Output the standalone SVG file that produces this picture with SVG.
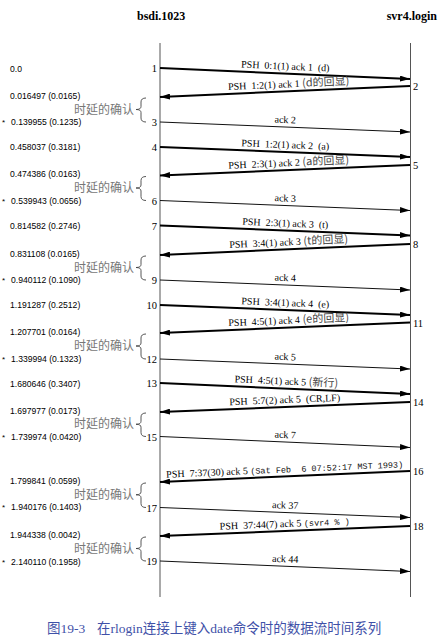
<svg xmlns="http://www.w3.org/2000/svg" width="439" height="639" viewBox="0 0 439 639">
<style>
.hdr{font-family:"Liberation Serif","DejaVu Serif",serif;font-weight:bold;font-size:12px;fill:#000}
.life{stroke:#555;stroke-width:1;fill:none}
.psh{stroke:#000;stroke-width:2;fill:none}
.ack{stroke:#111;stroke-width:1;fill:none}
.lbl{font-family:"Liberation Serif","DejaVu Serif",serif;font-size:10px;fill:#000;text-anchor:middle}
.cj{font-family:"Noto Sans CJK SC",sans-serif;font-size:11px;fill:#444}
.mono{font-family:"Liberation Mono","DejaVu Sans Mono",monospace;font-size:8.5px;fill:#111}
.num{font-family:"Liberation Serif","DejaVu Serif",serif;font-size:10.5px;fill:#000}
.numL{text-anchor:end}
.time{font-family:"Liberation Sans","DejaVu Sans",sans-serif;font-size:8.6px;fill:#000}
.star{font-family:"Liberation Sans",sans-serif;font-size:8px;fill:#000}
.dly{font-family:"Noto Sans CJK SC",sans-serif;font-size:12px;fill:#777;text-anchor:end}
.brace{stroke:#444;stroke-width:0.9;fill:none}
.cap{font-family:"Liberation Serif","Noto Sans CJK SC",serif;font-size:13.5px;fill:#3f51a8}
</style>
<defs>
<marker id="ah" viewBox="0 0 10 6" refX="10" refY="3" markerWidth="10" markerHeight="6" markerUnits="userSpaceOnUse" orient="auto">
<path d="M0,0 L10,3 L0,6 z" fill="#000"/>
</marker>
</defs>
<rect width="439" height="639" fill="#fff"/>

<g id="host-bsdi">
<text class="hdr" x="137" y="20">bsdi.1023</text>
<line class="life" x1="160" y1="43" x2="160" y2="597"/>
</g>
<g id="host-svr4">
<text class="hdr" x="437" y="20" text-anchor="end">svr4.login</text>
<line class="life" x1="410.5" y1="43" x2="410.5" y2="597"/>
</g>

<g id="connectors">
<line class="psh" x1="160" y1="68" x2="410" y2="79" marker-end="url(#ah)"/>
<line class="psh" x1="410" y1="86" x2="160" y2="97" marker-end="url(#ah)"/>
<line class="ack" x1="160" y1="122" x2="410" y2="132" marker-end="url(#ah)"/>
<line class="psh" x1="160" y1="147" x2="410" y2="157" marker-end="url(#ah)"/>
<line class="psh" x1="410" y1="165" x2="160" y2="175.5" marker-end="url(#ah)"/>
<line class="ack" x1="160" y1="200.5" x2="410" y2="210.5" marker-end="url(#ah)"/>
<line class="psh" x1="160" y1="225.5" x2="410" y2="235.5" marker-end="url(#ah)"/>
<line class="psh" x1="410" y1="244" x2="160" y2="255" marker-end="url(#ah)"/>
<line class="ack" x1="160" y1="280" x2="410" y2="290" marker-end="url(#ah)"/>
<line class="psh" x1="160" y1="305" x2="410" y2="315" marker-end="url(#ah)"/>
<line class="psh" x1="410" y1="322.5" x2="160" y2="333" marker-end="url(#ah)"/>
<line class="ack" x1="160" y1="359" x2="410" y2="369" marker-end="url(#ah)"/>
<line class="psh" x1="160" y1="383" x2="410" y2="394" marker-end="url(#ah)"/>
<line class="psh" x1="410" y1="402" x2="160" y2="412" marker-end="url(#ah)"/>
<line class="ack" x1="160" y1="436.5" x2="410" y2="447.5" marker-end="url(#ah)"/>
<line class="psh" x1="410" y1="471" x2="160" y2="482" marker-end="url(#ah)"/>
<line class="ack" x1="160" y1="507.5" x2="410" y2="517.5" marker-end="url(#ah)"/>
<line class="psh" x1="410" y1="526" x2="160" y2="536" marker-end="url(#ah)"/>
<line class="ack" x1="160" y1="561" x2="410" y2="571.5" marker-end="url(#ah)"/>
</g>

<g id="segment-labels">
<text class="lbl" xml:space="preserve" x="285" y="69.5" transform="rotate(2.52 285 73.5)">PSH  0:1(1) ack 1  (d)</text>
<text class="lbl" xml:space="preserve" x="289" y="87.5" transform="rotate(-2.52 285 91.5)">PSH  1:2(1) ack 1 <tspan class="cj">(d的回显)</tspan></text>
<text class="lbl" x="285" y="123" transform="rotate(2.29 285 127)">ack 2</text>
<text class="lbl" xml:space="preserve" x="285" y="148" transform="rotate(2.29 285 152)">PSH  1:2(1) ack 2  (a)</text>
<text class="lbl" xml:space="preserve" x="289" y="166.25" transform="rotate(-2.41 285 170.25)">PSH  2:3(1) ack 2 <tspan class="cj">(a的回显)</tspan></text>
<text class="lbl" x="285" y="201.5" transform="rotate(2.29 285 205.5)">ack 3</text>
<text class="lbl" xml:space="preserve" x="285" y="226.5" transform="rotate(2.29 285 230.5)">PSH  2:3(1) ack 3  (t)</text>
<text class="lbl" xml:space="preserve" x="289" y="245.5" transform="rotate(-2.52 285 249.5)">PSH  3:4(1) ack 3 <tspan class="cj">(t的回显)</tspan></text>
<text class="lbl" x="285" y="281" transform="rotate(2.29 285 285)">ack 4</text>
<text class="lbl" xml:space="preserve" x="285" y="306" transform="rotate(2.29 285 310)">PSH  3:4(1) ack 4  (e)</text>
<text class="lbl" xml:space="preserve" x="289" y="323.75" transform="rotate(-2.41 285 327.75)">PSH  4:5(1) ack 4 <tspan class="cj">(e的回显)</tspan></text>
<text class="lbl" x="285" y="360" transform="rotate(2.29 285 364)">ack 5</text>
<text class="lbl" xml:space="preserve" x="286" y="384.5" transform="rotate(2.52 285 388.5)">PSH  4:5(1) ack 5 <tspan class="cj">(新行)</tspan></text>
<text class="lbl" xml:space="preserve" x="285" y="403" transform="rotate(-2.29 285 407)">PSH  5:7(2) ack 5  (CR,LF)</text>
<text class="lbl" x="285" y="438" transform="rotate(2.52 285 442)">ack 7</text>
<text class="lbl" xml:space="preserve" x="285" y="472.5" transform="rotate(-2.52 285 476.5)">PSH  7:37(30) ack 5 <tspan class="mono">(Sat Feb  6 07:52:17 MST 1993)</tspan></text>
<text class="lbl" x="285" y="508.5" transform="rotate(2.29 285 512.5)">ack 37</text>
<text class="lbl" xml:space="preserve" x="285" y="527" transform="rotate(-2.29 285 531)">PSH  37:44(7) ack 5 <tspan class="mono">(svr4 % )</tspan></text>
<text class="lbl" x="285" y="562.25" transform="rotate(2.41 285 566.25)">ack 44</text>
</g>

<g id="segment-numbers">
<text class="num numL" x="157" y="72">1</text>
<text class="num" x="413" y="90">2</text>
<text class="num numL" x="157" y="126">3</text>
<text class="num numL" x="157" y="151">4</text>
<text class="num" x="413" y="169">5</text>
<text class="num numL" x="157" y="204.5">6</text>
<text class="num numL" x="157" y="229.5">7</text>
<text class="num" x="413" y="248">8</text>
<text class="num numL" x="157" y="284">9</text>
<text class="num numL" x="157" y="309">10</text>
<text class="num" x="413" y="326.5">11</text>
<text class="num numL" x="157" y="363">12</text>
<text class="num numL" x="157" y="387">13</text>
<text class="num" x="413" y="406">14</text>
<text class="num numL" x="157" y="440.5">15</text>
<text class="num" x="413" y="475">16</text>
<text class="num numL" x="157" y="511.5">17</text>
<text class="num" x="413" y="530">18</text>
<text class="num numL" x="157" y="565">19</text>
</g>

<g id="timestamps">
<text class="time" x="10" y="72">0.0</text>
<text class="time" x="10" y="99">0.016497 (0.0165)</text>
<text class="star" x="2" y="125">*</text><text class="time" x="11" y="125">0.139955 (0.1235)</text>
<text class="time" x="10" y="150">0.458037 (0.3181)</text>
<text class="time" x="10" y="177">0.474386 (0.0163)</text>
<text class="star" x="2" y="204">*</text><text class="time" x="11" y="204">0.539943 (0.0656)</text>
<text class="time" x="10" y="229">0.814582 (0.2746)</text>
<text class="time" x="10" y="257">0.831108 (0.0165)</text>
<text class="star" x="2" y="283">*</text><text class="time" x="11" y="283">0.940112 (0.1090)</text>
<text class="time" x="10" y="308">1.191287 (0.2512)</text>
<text class="time" x="10" y="335">1.207701 (0.0164)</text>
<text class="star" x="2" y="362">*</text><text class="time" x="11" y="362">1.339994 (0.1323)</text>
<text class="time" x="10" y="386.5">1.680646 (0.3407)</text>
<text class="time" x="10" y="414">1.697977 (0.0173)</text>
<text class="star" x="2" y="439.5">*</text><text class="time" x="11" y="439.5">1.739974 (0.0420)</text>
<text class="time" x="10" y="484">1.799841 (0.0599)</text>
<text class="star" x="2" y="510">*</text><text class="time" x="11" y="510">1.940176 (0.1403)</text>
<text class="time" x="10" y="538">1.944338 (0.0042)</text>
<text class="star" x="2" y="564.5">*</text><text class="time" x="11" y="564.5">2.140110 (0.1958)</text>
</g>

<g id="delayed-acks">
<text class="dly" x="134" y="113.5">时延的确认</text>
<path class="brace" d="M146,98 Q141,98 141,102 L141,106.5 Q141,109.5 136,109.5 Q141,109.5 141,112.5 L141,118 Q141,122 146,122"/>
<text class="dly" x="134" y="192">时延的确认</text>
<path class="brace" d="M146,176.5 Q141,176.5 141,180.5 L141,185 Q141,188 136,188 Q141,188 141,191 L141,196.5 Q141,200.5 146,200.5"/>
<text class="dly" x="134" y="271.5">时延的确认</text>
<path class="brace" d="M146,256 Q141,256 141,260 L141,264.5 Q141,267.5 136,267.5 Q141,267.5 141,270.5 L141,276 Q141,280 146,280"/>
<text class="dly" x="134" y="350">时延的确认</text>
<path class="brace" d="M146,334 Q141,334 141,338 L141,343 Q141,346 136,346 Q141,346 141,349 L141,355 Q141,359 146,359"/>
<text class="dly" x="134" y="428.25">时延的确认</text>
<path class="brace" d="M146,413 Q141,413 141,417 L141,421.25 Q141,424.25 136,424.25 Q141,424.25 141,427.25 L141,432.5 Q141,436.5 146,436.5"/>
<text class="dly" x="134" y="498.75">时延的确认</text>
<path class="brace" d="M146,483 Q141,483 141,487 L141,491.75 Q141,494.75 136,494.75 Q141,494.75 141,497.75 L141,503.5 Q141,507.5 146,507.5"/>
<text class="dly" x="134" y="552.5">时延的确认</text>
<path class="brace" d="M146,537 Q141,537 141,541 L141,545.5 Q141,548.5 136,548.5 Q141,548.5 141,551.5 L141,557 Q141,561 146,561"/>
</g>

<g id="caption">
<text class="cap" x="47" y="633">图19-3</text>
<text class="cap" x="97" y="633">在rlogin连接上键入date命令时的数据流时间系列</text>
</g>
</svg>
